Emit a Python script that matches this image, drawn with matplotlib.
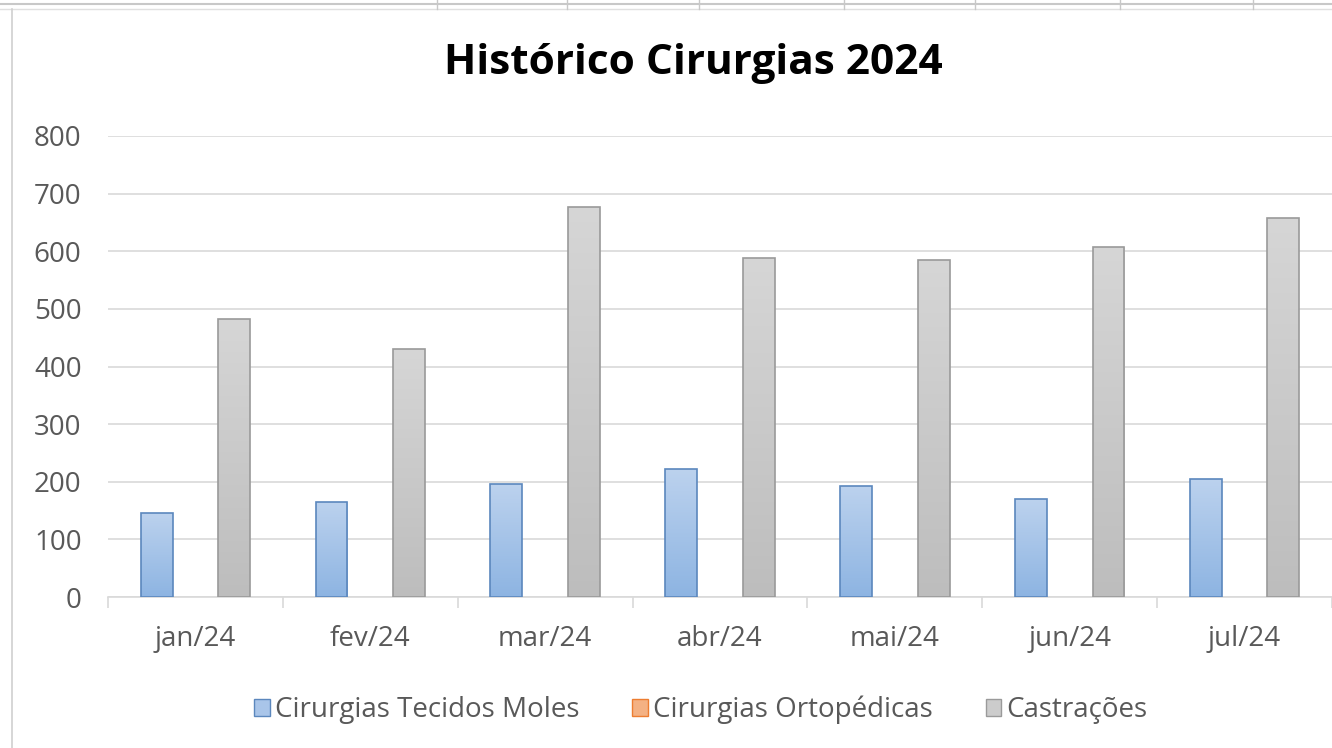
import numpy as np
import matplotlib.pyplot as plt
from matplotlib.colors import LinearSegmentedColormap
from matplotlib.lines import Line2D
from matplotlib.patches import Patch

# data
months = ["jan/24", "fev/24", "mar/24", "abr/24", "mai/24", "jun/24", "jul/24"]
tecidos_moles = [146, 165, 196, 222, 193, 170, 205]
ortopedicas = [0, 0, 0, 0, 0, 0, 0]
castracoes = [483, 430, 677, 588, 585, 608, 658]
series_names = ["Cirurgias Tecidos Moles", "Cirurgias Ortopédicas", "Castrações"]

plt.rcParams["font.family"] = ["Open Sans", "DejaVu Sans"]
text_color = "#595959"
grid_color = "#d9d9d9"

fig = plt.figure(figsize=(13.32, 7.48), dpi=100)
fig.patch.set_facecolor("white")

W, H = 1332, 748
ax = fig.add_axes([108 / W, (H - 597) / H, 1 - 108 / W, (597 - 136) / H])

# spreadsheet frame bits around the chart
fig.add_artist(Line2D([0, 1], [1 - 4 / H, 1 - 4 / H], color="#c8c8c8", lw=1.5))
fig.add_artist(Line2D([0, 1], [1 - 9 / H, 1 - 9 / H], color="#e0e0e0", lw=1))
for xp in [437, 567, 699, 844, 975, 1120, 1253]:
    fig.add_artist(Line2D([xp / W, xp / W], [1, 1 - 9 / H], color="#c8c8c8", lw=1))
fig.add_artist(Line2D([12 / W, 12 / W], [0, 1 - 9 / H], color="#d0d0d0", lw=1.2))

x = np.arange(len(months))
step = 0.2216
bw = 0.182

blue_cmap = LinearSegmentedColormap.from_list("b", ["#8db4e2", "#bcd2ee"])
gray_cmap = LinearSegmentedColormap.from_list("g", ["#bdbdbd", "#d6d6d6"])
grad = np.linspace(0, 1, 256).reshape(-1, 1)


def gradient_bars(xpos, vals, cmap, edge):
    bars = ax.bar(xpos, vals, bw, facecolor="none", edgecolor=edge, lw=1.2, zorder=4)
    for b in bars:
        if b.get_height() <= 0:
            continue
        x0, y0 = b.get_x(), b.get_y()
        im = ax.imshow(grad, cmap=cmap, origin="lower", aspect="auto",
                       extent=[x0, x0 + b.get_width(), y0, y0 + b.get_height()],
                       zorder=3)
        im.set_clip_path(b)
    return bars


gradient_bars(x - step, tecidos_moles, blue_cmap, "#5b87bd")
ax.bar(x, ortopedicas, bw, color="#f4b183", edgecolor="none", zorder=3)
gradient_bars(x + step, castracoes, gray_cmap, "#9a9a9a")

ax.set_xlim(-0.5, (W - 108) / 176 - 0.5)
ax.set_ylim(0, 800)
ax.set_yticks(range(0, 801, 100))
ax.yaxis.grid(True, color=grid_color, lw=1.2)
ax.set_axisbelow(True)

ax.set_xticks(x)
ax.set_xticklabels(months)
ax.set_xticks(np.arange(-0.5, len(months), 1), minor=True)
ax.tick_params(axis="x", which="major", length=0, pad=20, labelsize=20, labelcolor=text_color)
ax.tick_params(axis="x", which="minor", length=8, color=grid_color, width=1.2)
ax.tick_params(axis="y", length=0, pad=19, labelsize=20, labelcolor=text_color)

for s in ["top", "right", "left"]:
    ax.spines[s].set_visible(False)
ax.spines["bottom"].set_color(grid_color)
ax.spines["bottom"].set_linewidth(1.2)

fig.text(693 / W, 1 - 64 / H, "Histórico Cirurgias 2024", ha="center", va="center",
         fontsize=30.5, fontweight="bold", color="black")

handles = [
    Patch(facecolor="#a9c5e9", edgecolor="#5b87bd"),
    Patch(facecolor="#f4b183", edgecolor="#ed7d31"),
    Patch(facecolor="#cccccc", edgecolor="#9a9a9a"),
]
fig.legend(handles, series_names, loc="center", bbox_to_anchor=(701 / W, 1 - 710 / H),
           ncol=3, frameon=False, fontsize=20, labelcolor=text_color,
           handlelength=0.55, handleheight=0.55, handletextpad=0.2, columnspacing=1.9)

fig.savefig("out.png", dpi=100, facecolor="white")
